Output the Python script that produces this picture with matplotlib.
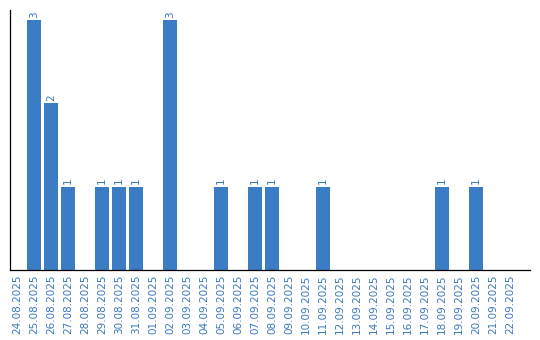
import matplotlib
matplotlib.use("Agg")
import matplotlib.pyplot as plt
import numpy as np

dates = ["24.08.2025", "25.08.2025", "26.08.2025", "27.08.2025", "28.08.2025",
         "29.08.2025", "30.08.2025", "31.08.2025", "01.09.2025", "02.09.2025",
         "03.09.2025", "04.09.2025", "05.09.2025", "06.09.2025", "07.09.2025",
         "08.09.2025", "09.09.2025", "10.09.2025", "11.09.2025", "12.09.2025",
         "13.09.2025", "14.09.2025", "15.09.2025", "16.09.2025", "17.09.2025",
         "18.09.2025", "19.09.2025", "20.09.2025", "21.09.2025", "22.09.2025"]
counts = [0, 3, 2, 1, 0, 1, 1, 1, 0, 3,
          0, 0, 1, 0, 1, 1, 0, 0, 1, 0,
          0, 0, 0, 0, 0, 1, 0, 1, 0, 0]

blue = "#3b7dc4"
label_col = "#3a78c0"

fig = plt.figure(figsize=(5.4, 3.4), dpi=100)
ax = fig.add_axes([10 / 540, 70 / 340, 520 / 540, 260 / 340])

x = np.arange(len(dates))
bars = ax.bar(x, counts, width=0.82, color=blue)

# value labels above the bars
for xi, c in zip(x, counts):
    if c > 0:
        ax.text(xi, c + 0.03, str(c), rotation=90, ha="center", va="bottom",
                fontsize=7.5, color=label_col)

ax.set_xlim(-0.41, 30.18)
ax.set_ylim(0, 3.12)
ax.set_xticks(x)
ax.set_xticklabels(dates, rotation=90, fontsize=7.5, color=label_col)
ax.tick_params(axis="x", length=0, pad=3)
ax.set_yticks([])
for s in ["top", "right"]:
    ax.spines[s].set_visible(False)
ax.spines["left"].set_linewidth(0.9)
ax.spines["bottom"].set_linewidth(0.9)

fig.savefig("out.png", dpi=100)
